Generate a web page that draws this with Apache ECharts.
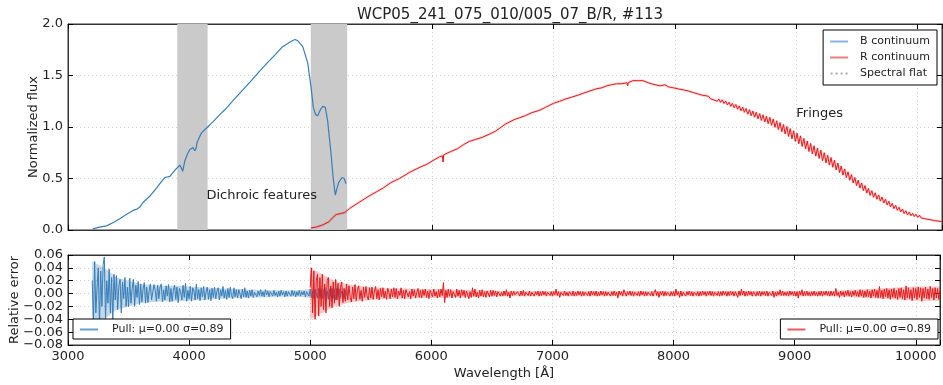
<!DOCTYPE html>
<html>
<head>
<meta charset="utf-8">
<script src="https://cdn.jsdelivr.net/npm/echarts@6/dist/echarts.min.js"></script>
<style>html,body{margin:0;padding:0;background:#fff}#c{width:943px;height:385px}</style>
</head>
<body>
<div id="c"></div>
<script>
// ---------- DATA ----------
const TITLE = 'WCP05_241_075_010/005_07_B/R, #113';
const X_TICKS = [3000, 4000, 5000, 6000, 7000, 8000, 9000, 10000];
const DICHROIC_BANDS = [[3900, 4150], [5000, 5300]];

// B continuum (wavelength, normalized flux)
const WL_B = [3202,3250,3317,3370,3426,3480,3536,3563,3590,3620,3675,3730,3770,3798,3839,3880,3921,3935,3945,3962,3985,4003,4030,4044,4055,4063,4098,4150,4194,4250,4303,4370,4440,4510,4577,4640,4713,4768,4836,4870,4890,4934,4975,5002,5021,5040,5057,5080,5098,5120,5139,5167,5185,5202,5215,5229,5257,5275,5290];
const FLUX_B = [0.01,0.025,0.04,0.07,0.11,0.15,0.19,0.20,0.22,0.27,0.33,0.41,0.47,0.51,0.52,0.58,0.63,0.60,0.57,0.67,0.74,0.78,0.80,0.77,0.79,0.85,0.94,1.00,1.05,1.12,1.18,1.27,1.36,1.45,1.54,1.62,1.71,1.78,1.83,1.85,1.84,1.78,1.62,1.39,1.19,1.12,1.11,1.17,1.20,1.19,1.06,0.74,0.50,0.34,0.40,0.46,0.51,0.50,0.45];

// R continuum, smooth part (wavelength, normalized flux)
const WL_R = [5002,5050,5100,5150,5180,5210,5250,5280,5320,5400,5480,5540,5600,5660,5730,5815,5900,5960,6000,6060,6085,6090,6095,6150,6210,6260,6305,6360,6414,6470,6523,6570,6605,6640,6673,6720,6768,6823,6880,6932,7000,7050,7095,7150,7204,7250,7300,7350,7395,7440,7477,7520,7559,7605,7610,7615,7654,7700,7736,7780,7804,7837,7880,7918,7946,7990,8028,8070,8110,8150,8192,8230];
const FLUX_R = [0.02,0.03,0.05,0.08,0.12,0.15,0.16,0.17,0.21,0.27,0.33,0.37,0.41,0.46,0.50,0.56,0.61,0.64,0.67,0.71,0.72,0.66,0.73,0.76,0.79,0.83,0.86,0.88,0.90,0.93,0.96,1.00,1.03,1.05,1.07,1.09,1.11,1.14,1.16,1.19,1.23,1.25,1.27,1.29,1.31,1.33,1.35,1.37,1.38,1.40,1.41,1.42,1.42,1.43,1.40,1.43,1.45,1.45,1.45,1.43,1.42,1.41,1.40,1.41,1.39,1.38,1.37,1.36,1.35,1.335,1.32,1.307];

// R continuum, fringed part: sampled every FRINGE_STEP Angstrom from FRINGE_START
const FRINGE_START = 8250, FRINGE_STEP = 14;
const FRINGE_FLUX = [1.305,1.288,1.297,1.275,1.287,1.263,1.279,1.251,1.271,1.239,
1.263,1.228,1.253,1.215,1.241,1.201,1.230,1.187,1.218,1.173,
1.205,1.158,1.192,1.143,1.179,1.125,1.168,1.110,1.155,1.095,
1.143,1.080,1.130,1.064,1.118,1.049,1.105,1.033,1.093,1.017,
1.078,0.997,1.060,0.976,1.043,0.954,1.024,0.933,1.005,0.908,
0.984,0.885,0.963,0.861,0.940,0.837,0.914,0.812,0.889,0.787,
0.864,0.762,0.840,0.739,0.818,0.717,0.796,0.695,0.774,0.673,
0.750,0.652,0.726,0.630,0.703,0.609,0.678,0.583,0.650,0.558,
0.621,0.533,0.593,0.509,0.565,0.483,0.538,0.457,0.510,0.432,
0.483,0.407,0.457,0.383,0.431,0.359,0.404,0.336,0.381,0.318,
0.361,0.299,0.340,0.281,0.320,0.262,0.299,0.243,0.279,0.225,
0.258,0.208,0.239,0.192,0.221,0.176,0.204,0.160,0.186,0.147,
0.173,0.138,0.162,0.131,0.152,0.123,0.143,0.117,0.135,0.110,
0.127,0.104,0.120,0.098,0.113,0.091,0.105,0.087,0.100,0.082];

// Relative error (pull) residuals, sampled every RES_STEP Angstrom
const RES_STEP = 10;
const RES_B_START = 3200;
const RES_B = [0.02,-0.045,0.05,-0.03,0.01,0.04,-0.05,0.035,-0.02,0.045,
0.057,-0.04,0.02,-0.015,0.038,-0.03,0.025,-0.045,0.03,-0.01,
0.028,-0.025,0.012,0.022,-0.03,0.018,-0.008,0.025,-0.02,0.01,
-0.02,0.024,-0.015,0.008,0.022,-0.02,0.013,-0.006,0.019,-0.017,
0.015,-0.013,0.007,0.017,-0.015,0.01,-0.014,0.004,0.015,-0.01,
-0.013,0.014,0.005,-0.012,0.013,-0.008,0.01,0.015,-0.013,0.006,
-0.01,0.012,-0.004,0.014,-0.013,0.008,-0.012,0.005,0.013,-0.009,
0.01,-0.014,0.008,0.003,-0.01,0.013,-0.006,0.016,-0.012,0.005,
-0.008,0.011,-0.012,0.009,0.004,-0.01,0.015,-0.008,0.006,-0.011,
0.009,-0.005,0.011,-0.01,0.003,0.01,-0.009,0.006,-0.011,0.008,
-0.006,0.01,-0.008,0.004,0.009,-0.01,0.006,-0.004,0.011,-0.007,
0.005,-0.009,0.008,-0.006,0.01,-0.003,-0.008,0.009,-0.005,0.006,
-0.007,0.006,0.003,-0.008,0.007,-0.005,0.009,-0.006,0.004,-0.007,
0.005,-0.004,0.006,-0.006,0.002,0.005,-0.005,0.004,-0.003,0.006,
-0.004,0.003,-0.005,0.006,-0.002,0.004,-0.005,0.003,0.004,-0.004,
0.005,-0.003,0.002,-0.005,0.004,-0.004,0.005,-0.002,0.003,-0.005,
0.004,-0.004,0.003,0.002,-0.004,0.005,-0.003,0.004,-0.005,0.003,
-0.003,0.005,-0.004,0.003,-0.002,0.004,-0.005,0.003,0.006,-0.004,
0.007,-0.006,0.004,-0.008,0.006,0.003,-0.007,0.008,-0.005,0.006,
-0.008,0.005,0.009,-0.006,0.004,-0.009,0.007,-0.004,0.008,-0.007,
0.006,-0.01,0.008,-0.005,0.007,-0.006,0.004,0.007,-0.008,0.005,
-0.003];
const RES_R_START = 5000;
const RES_R = [0.01,0.04,-0.03,0.035,-0.04,0.02,0.03,-0.035,0.025,-0.02,
0.03,-0.025,0.015,-0.03,0.02,0.025,-0.02,0.012,-0.022,0.018,
-0.015,0.022,-0.01,0.016,-0.02,0.01,0.018,-0.014,0.008,-0.012,
0.015,-0.01,0.012,-0.006,-0.013,0.01,-0.008,0.014,-0.011,0.006,
0.012,-0.009,0.005,-0.012,0.01,-0.006,0.011,-0.004,-0.01,0.009,
-0.007,0.01,-0.009,0.004,0.011,-0.008,0.006,-0.01,0.008,-0.005,
0.009,-0.007,0.004,-0.009,0.008,0.002,-0.008,0.007,-0.005,0.009,
-0.006,0.008,-0.008,0.004,-0.003,0.009,-0.007,0.005,-0.008,0.006,
0.007,-0.005,0.003,-0.008,0.007,-0.004,0.006,-0.007,0.002,0.008,
-0.006,0.005,-0.007,0.006,-0.003,0.007,-0.006,0.004,-0.008,0.005,
0.006,-0.005,0.007,-0.004,0.003,-0.007,0.006,-0.005,0.007,-0.003,
0.017,-0.014,0.005,-0.006,0.007,-0.004,0.006,-0.007,0.003,0.006,
-0.006,0.007,-0.004,0.005,-0.007,0.006,-0.003,0.005,-0.006,0.004,
0.006,-0.008,0.003,-0.006,0.009,-0.004,0.007,-0.005,0.002,-0.007,
0.005,-0.004,0.006,-0.005,0.003,-0.006,0.004,0.002,-0.005,0.005,
-0.004,0.005,-0.003,0.004,-0.005,0.003,0.005,-0.004,0.002,-0.004,
0.004,-0.003,0.006,-0.004,0.002,-0.007,0.004,-0.003,0.004,-0.002,
-0.004,0.003,0.002,-0.004,0.004,-0.003,0.005,-0.004,0.002,0.003,
-0.003,0.004,-0.004,0.002,0.003,-0.004,0.003,-0.002,0.004,-0.004,
0.003,-0.003,0.004,-0.002,0.003,-0.004,0.002,0.004,-0.003,0.003,
-0.004,0.003,-0.002,0.007,-0.003,0.003,-0.006,0.002,0.003,-0.003,
0.004,-0.003,0.002,-0.004,0.003,0.002,-0.003,0.004,-0.004,0.002,
-0.003,0.004,-0.002,0.003,-0.004,0.003,-0.003,0.002,0.004,-0.003,
0.003,-0.004,0.004,-0.002,0.003,-0.003,0.004,-0.004,0.002,-0.003,
0.004,-0.002,0.003,-0.004,0.003,-0.003,0.002,0.004,-0.004,0.003,
-0.003,0.004,-0.003,0.002,-0.007,0.004,-0.002,0.003,-0.004,0.006,
0.004,-0.004,0.003,-0.002,0.004,-0.003,0.003,-0.004,0.002,0.004,
-0.003,0.003,-0.004,0.004,-0.002,0.003,-0.004,0.003,-0.003,0.002,
0.004,-0.003,0.003,-0.004,0.002,0.006,-0.003,0.003,-0.006,0.003,
-0.002,0.004,-0.004,0.003,-0.003,0.002,0.004,-0.004,0.003,-0.003,
0.003,-0.004,0.007,-0.002,0.003,-0.006,0.004,-0.004,0.002,0.003,
-0.004,0.003,-0.002,0.004,-0.003,0.003,-0.004,0.002,0.004,-0.003,
0.003,-0.004,0.003,-0.003,0.004,-0.002,0.003,-0.004,0.003,-0.002,
0.004,-0.003,0.003,-0.004,0.002,0.004,-0.003,0.003,-0.004,0.003,
-0.003,0.004,-0.002,0.003,-0.004,0.003,-0.003,0.004,-0.002,0.003,
-0.004,0.003,0.002,-0.006,0.004,-0.003,0.007,-0.002,0.004,-0.004,
0.003,-0.003,0.004,-0.002,0.003,-0.004,0.003,0.002,-0.004,0.003,
-0.003,0.004,-0.004,0.003,-0.002,0.003,-0.003,0.004,-0.004,0.002,
0.003,-0.003,0.004,-0.006,0.002,-0.004,0.003,-0.002,0.006,-0.003,
0.004,-0.003,0.002,-0.003,0.003,-0.004,0.004,-0.002,0.003,-0.003,
0.003,-0.004,0.003,-0.007,0.004,-0.002,0.006,-0.004,0.003,-0.003,
0.004,-0.003,0.002,-0.004,0.003,-0.003,0.004,-0.003,0.002,-0.004,
0.003,-0.003,0.004,-0.004,0.003,-0.002,0.004,-0.003,0.003,-0.004,
0.004,-0.003,0.003,-0.004,0.008,-0.003,0.002,-0.006,0.004,-0.003,
0.003,-0.005,0.004,-0.003,0.005,-0.004,0.003,-0.005,0.004,-0.003,
0.005,-0.004,0.003,-0.005,0.006,-0.004,0.005,-0.006,0.004,-0.005,
0.006,-0.005,0.004,-0.007,0.006,-0.004,0.007,-0.006,0.005,-0.007,
0.011,-0.006,0.005,-0.008,0.007,-0.005,0.008,-0.007,0.006,-0.009,
0.007,-0.006,0.008,-0.007,0.005,-0.009,0.008,-0.006,0.009,-0.008,
0.006,-0.01,0.012,-0.007,0.009,-0.008,0.006,-0.011,0.009,-0.007,
0.008,-0.009,0.01,-0.006,0.009,-0.012,0.008,-0.007,0.01,-0.008,
0.007,-0.009,0.011,-0.006,0.008,-0.01,0.009,-0.007,0.008,-0.009,
0.006];

// Error-band half widths, every ENV_STEP Angstrom
const ENV_STEP = 100;
const ENV_B_START = 3200;
const ENV_B = [0.05,0.04,0.025,0.02,0.015,0.013,0.012,0.012,0.011,0.01,0.009,0.008,0.007,0.006,0.006,0.005,0.005,0.005,0.007,0.008,0.009,0.008];
const ENV_R_START = 5000;
const ENV_R = [0.04,0.03,0.02,0.015,0.012,0.01,0.009,0.008,0.008,0.007,0.007,0.007,0.006,0.006,0.005,0.005,
0.004,0.004,0.004,0.004,0.004,0.004,0.004,0.004,0.004,0.004,0.004,0.004,0.004,0.004,
0.004,0.004,0.004,0.004,0.004,0.004,0.004,0.004,0.004,0.004,0.004,0.004,0.004,0.004,
0.005,0.006,0.007,0.008,0.009,0.01,0.011,0.011,0.011];

const LEGEND_TOP = ['B continuum', 'R continuum', 'Spectral flat'];
const PULL_LABEL = 'Pull: μ=0.00 σ=0.89';
const ANNOTATIONS = [
  { text: 'Dichroic features', wl: 4140, flux: 0.335 },
  { text: 'Fringes', wl: 9000, flux: 1.13 }
];

// ---------- BUILD ----------
const BLUE = '#377eb8', RED = '#e41a1c', FONT = 'DejaVu Sans', TXT = '#222';
const zip = (xs, ys) => xs.map((x, i) => [x, ys[i]]);
const grid = (start, step, ys) => ys.map((y, i) => [start + i * step, y]);

const bData = zip(WL_B, FLUX_B);
const rData = zip(WL_R, FLUX_R).concat(grid(FRINGE_START, FRINGE_STEP, FRINGE_FLUX));
const resB = grid(RES_B_START, RES_STEP, RES_B);
const resR = grid(RES_R_START, RES_STEP, RES_R);

const fmtMinus = v => (v < -1e-9 ? '\u2212' : '') + Math.abs(v).toFixed(2);
const xLabelFmt = v => (X_TICKS.indexOf(Math.round(v)) >= 0 ? String(Math.round(v)) : '');

const splitDotted = { show: true, lineStyle: { color: '#cfcfcf', type: [1, 3], width: 1 } };
const tickIn = { show: true, inside: true, length: 5, lineStyle: { color: '#000' } };
const axLine = { show: true, onZero: false, lineStyle: { color: '#333', width: 1 } };

function xAxis(gridIndex, position, showLabels) {
  return {
    type: 'value', gridIndex, position, min: 3000, max: 10200, interval: 1000,
    axisLine: axLine, axisTick: tickIn,
    splitLine: position === 'bottom' ? splitDotted : { show: false },
    axisLabel: showLabels ? { show: true, formatter: xLabelFmt, fontFamily: FONT, fontSize: 13, color: TXT, margin: 5 } : { show: false },
    name: showLabels ? 'Wavelength [Å]' : '', nameLocation: 'middle', nameGap: 22, nameMoveOverlap: false,
    nameTextStyle: { fontFamily: FONT, fontSize: 13, color: TXT }
  };
}
function yAxis(gridIndex, position, min, max, interval, fmt, name, nameGap) {
  const left = position === 'left';
  return {
    type: 'value', gridIndex, position, min, max, interval,
    axisLine: axLine, axisTick: tickIn,
    splitLine: left ? splitDotted : { show: false },
    axisLabel: left ? { show: true, formatter: fmt, fontFamily: FONT, fontSize: 13, color: TXT, margin: 5 } : { show: false },
    name: left ? name : '', nameLocation: 'middle', nameGap: nameGap, nameMoveOverlap: false,
    nameTextStyle: { fontFamily: FONT, fontSize: 13, color: TXT }
  };
}

function bandSeries(start, env, color, z) {
  return {
    type: 'custom', xAxisIndex: 2, yAxisIndex: 2, coordinateSystem: 'cartesian2d',
    data: [[start, 0]], z: z, silent: true, clip: true,
    renderItem: (params, api) => {
      const up = env.map((e, i) => api.coord([start + i * ENV_STEP, e]));
      const lo = env.map((e, i) => api.coord([start + i * ENV_STEP, -e])).reverse();
      return { type: 'polygon', shape: { points: up.concat(lo) }, style: { fill: color } };
    }
  };
}

const LINE_ICON = 'rect';
const DOT_ICON = 'path://M0,0h2v2h-2z M5,0h2v2h-2z M10,0h2v2h-2z M15,0h2v2h-2z';

const option = {
  animation: false,
  backgroundColor: '#fff',
  title: { text: TITLE, left: 505, textAlign: 'center', top: 3, textStyle: { fontFamily: FONT, fontSize: 15, fontWeight: 'normal', color: TXT } },
  grid: [
    { left: 68, right: 1, top: 24, height: 206, show: true, borderColor: '#333', borderWidth: 1 },
    { left: 68, right: 1, top: 255, height: 90, show: true, borderColor: '#333', borderWidth: 1 }
  ],
  xAxis: [
    xAxis(0, 'bottom', false), xAxis(0, 'top', false),
    xAxis(1, 'bottom', true), xAxis(1, 'top', false)
  ],
  yAxis: [
    yAxis(0, 'left', 0, 2, 0.5, v => v.toFixed(1), 'Normalized flux', 28),
    yAxis(0, 'right', 0, 2, 0.5, null, '', 0),
    yAxis(1, 'left', -0.08, 0.06, 0.02, fmtMinus, 'Relative error', 47),
    yAxis(1, 'right', -0.08, 0.06, 0.02, null, '', 0)
  ],
  legend: [
    {
      data: [
        { name: LEGEND_TOP[0], icon: LINE_ICON, itemStyle: { color: '#89b4dc' } },
        { name: LEGEND_TOP[1], icon: LINE_ICON, itemStyle: { color: '#f07c7d' } },
        { name: LEGEND_TOP[2], icon: DOT_ICON, itemStyle: { color: '#aaa' } }
      ],
      orient: 'vertical', right: 6, top: 30, itemWidth: 18, itemHeight: 2, itemGap: 3,
      padding: [5, 7, 5, 7], borderColor: '#000', borderWidth: 1, backgroundColor: '#fff',
      textStyle: { fontFamily: FONT, fontSize: 11, color: TXT, padding: [0, 0, 0, 7], lineHeight: 13 }
    },
    {
      data: [{ name: 'pullB', icon: LINE_ICON, itemStyle: { color: '#6a9fd0' } }],
      left: 73, top: 319, itemWidth: 18, itemHeight: 2,
      padding: [4, 7, 3, 7], borderColor: '#000', borderWidth: 1, backgroundColor: '#fff',
      formatter: () => PULL_LABEL,
      textStyle: { fontFamily: FONT, fontSize: 11, color: TXT, padding: [0, 0, 0, 9], lineHeight: 13 }
    },
    {
      data: [{ name: 'pullR', icon: LINE_ICON, itemStyle: { color: '#ec5b5c' } }],
      right: 5, top: 319, itemWidth: 18, itemHeight: 2,
      padding: [4, 7, 3, 7], borderColor: '#000', borderWidth: 1, backgroundColor: '#fff',
      formatter: () => PULL_LABEL,
      textStyle: { fontFamily: FONT, fontSize: 11, color: TXT, padding: [0, 0, 0, 9], lineHeight: 13 }
    }
  ],
  series: [
    {
      name: 'B continuum', type: 'line', xAxisIndex: 0, yAxisIndex: 0, data: bData,
      showSymbol: false, symbol: 'none', z: 3, silent: true,
      lineStyle: { color: BLUE, width: 1.2 }, itemStyle: { color: BLUE },
      markArea: {
        silent: true, z: 1,
        itemStyle: { color: '#cacaca', opacity: 1 },
        data: DICHROIC_BANDS.map(b => [{ xAxis: b[0] }, { xAxis: b[1] }])
      },
      markPoint: {
        silent: true, symbol: 'circle', symbolSize: 0,
        label: { show: true, position: 'right', distance: 0, fontFamily: FONT, fontSize: 13, color: TXT, formatter: p => p.name },
        data: ANNOTATIONS.map(a => ({ name: a.text, coord: [a.wl, a.flux] }))
      }
    },
    {
      name: 'R halo', type: 'line', xAxisIndex: 0, yAxisIndex: 0, data: rData,
      showSymbol: false, symbol: 'none', z: 2, silent: true,
      lineStyle: { color: RED, width: 2.6, opacity: 0.18 }
    },
    {
      name: 'R continuum', type: 'line', xAxisIndex: 0, yAxisIndex: 0, data: rData,
      showSymbol: false, symbol: 'none', z: 3, silent: true,
      lineStyle: { color: RED, width: 1 }, itemStyle: { color: RED }
    },
    {
      name: 'Spectral flat', type: 'line', xAxisIndex: 0, yAxisIndex: 0, data: [],
      showSymbol: false, symbol: 'none',
      lineStyle: { color: '#888', width: 1.2, type: [1, 3] }, itemStyle: { color: '#888' }
    },
    bandSeries(ENV_B_START, ENV_B, 'rgba(55,126,184,0.3)', 1),
    {
      name: 'pullB', type: 'line', xAxisIndex: 2, yAxisIndex: 2, data: resB,
      showSymbol: false, symbol: 'none', z: 3, silent: true,
      lineStyle: { color: BLUE, width: 1 }, itemStyle: { color: BLUE }
    },
    bandSeries(ENV_R_START, ENV_R, 'rgba(228,26,28,0.25)', 4),
    {
      name: 'pullR', type: 'line', xAxisIndex: 2, yAxisIndex: 2, data: resR,
      showSymbol: false, symbol: 'none', z: 5, silent: true,
      lineStyle: { color: RED, width: 1 }, itemStyle: { color: RED }
    }
  ]
};

const chart = echarts.init(document.getElementById('c'), null, { renderer: 'canvas' });
chart.setOption(option);
</script>
</body>
</html>
